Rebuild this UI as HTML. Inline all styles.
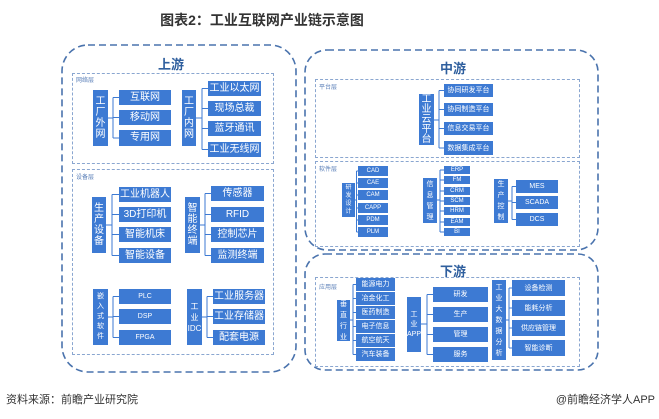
<!DOCTYPE html>
<html><head><meta charset="utf-8"><style>
body{margin:0;width:659px;height:419px;background:#fff;position:relative;overflow:hidden;font-family:"Liberation Sans","Noto Sans CJK SC",sans-serif}
.b{position:absolute;background:#3d7ad3;color:#fff;display:flex;align-items:center;justify-content:center;font-size:10px;line-height:1;white-space:nowrap}
.v{flex-direction:column;font-size:10px;line-height:11px;text-align:center}
.s{font-size:6px}
.m{font-size:7px}
.lay{position:absolute;border:1px dashed #8aa6d0}
.lt{position:absolute;font-size:6px;color:#5a7fb8}
.t{position:absolute;font-weight:bold;color:#2f5f9e;font-size:13px}
</style></head><body>
<div style="position:absolute;left:112px;top:10px;width:300px;text-align:center;font-weight:bold;font-size:14px;color:#333;white-space:nowrap">图表2：工业互联网产业链示意图</div>
<svg style="position:absolute;left:0;top:0" width="659" height="419">
<g fill="none" stroke="#4a73ad" stroke-width="1.6" stroke-dasharray="7,4">
<rect x="62" y="45" width="234" height="327" rx="26"/>
<rect x="305" y="50" width="293" height="200" rx="22"/>
<rect x="305" y="254" width="293" height="116" rx="20"/>
</g>
<g fill="none" stroke="#3d7ad3" stroke-width="1">
<path d="M108 118H113M113 97.5V138M113 97.5H119M113 117.5H119M113 138H119"/>
<path d="M196 118H202M202 88.5V149.5M202 88.5H208M202 108.5H208M202 128.5H208M202 149.5H208"/>
<path d="M106 225H112M112 194.5V255.5M112 194.5H119M112 214.5H119M112 234.5H119M112 255.5H119"/>
<path d="M200 225H205M205 193.5V255.5M205 193.5H211M205 214.5H211M205 234.5H211M205 255.5H211"/>
<path d="M108 317H113M113 296.5V337.5M113 296.5H119M113 316.5H119M113 337.5H119"/>
<path d="M202 317H207M207 296.5V337.5M207 296.5H213M207 316.5H213M207 337.5H213"/>
<path d="M434 120H439M439 90.5V148M439 90.5H444M439 109.5H444M439 128.5H444M439 148H444"/>
<path d="M355 200H356.5M356.5 171V232M356.5 171H358M356.5 183H358M356.5 195H358M356.5 208H358M356.5 220H358M356.5 232H358"/>
<path d="M437 200H440M440 170V232M440 170H444M440 180H444M440 191H444M440 201H444M440 211H444M440 222H444M440 232H444"/>
<path d="M508 201H512M512 186.5V219.5M512 186.5H516M512 202.5H516M512 219.5H516"/>
<path d="M350 320H353M353 284.5V354.5M353 284.5H356M353 298.5H356M353 312.5H356M353 326.5H356M353 340.5H356M353 354.5H356"/>
<path d="M421 324H427M427 294.5V354.5M427 294.5H433M427 314.5H433M427 334.5H433M427 354.5H433"/>
<path d="M506 320H509M509 288V348M509 288H512M509 308H512M509 328H512M509 348H512"/>
</g></svg>
<div class="t" style="left:158px;top:54px">上游</div>
<div class="t" style="left:440px;top:58px">中游</div>
<div class="t" style="left:440px;top:261px">下游</div>

<div class="lay" style="left:72px;top:73px;width:200px;height:89px"></div><div class="lt" style="left:76px;top:75px">网络层</div>
<div class="lay" style="left:72px;top:169px;width:200px;height:184px"></div><div class="lt" style="left:76px;top:172px">设备层</div>
<div class="lay" style="left:315px;top:79px;width:263px;height:77px"></div><div class="lt" style="left:319px;top:82px">平台层</div>
<div class="lay" style="left:315px;top:161px;width:263px;height:84px"></div><div class="lt" style="left:319px;top:164px">软件层</div>
<div class="lay" style="left:315px;top:277px;width:263px;height:88px"></div><div class="lt" style="left:319px;top:282px">应用层</div>

<div class="b v" style="left:93px;top:90px;width:15px;height:56px">工<br>厂<br>外<br>网</div>
<div class="b" style="left:119px;top:90px;width:52px;height:15px">互联网</div>
<div class="b" style="left:119px;top:110px;width:52px;height:15px">移动网</div>
<div class="b" style="left:119px;top:130px;width:52px;height:16px">专用网</div>
<div class="b v" style="left:182px;top:90px;width:14px;height:56px">工<br>厂<br>内<br>网</div>
<div class="b" style="left:208px;top:81px;width:53px;height:15px">工业以太网</div>
<div class="b" style="left:208px;top:101px;width:53px;height:15px">现场总裁</div>
<div class="b" style="left:208px;top:121px;width:53px;height:15px">蓝牙通讯</div>
<div class="b" style="left:208px;top:142px;width:53px;height:15px">工业无线网</div>

<div class="b v" style="left:92px;top:197px;width:14px;height:56px">生<br>产<br>设<br>备</div>
<div class="b" style="left:119px;top:187px;width:52px;height:15px">工业机器人</div>
<div class="b" style="left:119px;top:207px;width:52px;height:15px">3D打印机</div>
<div class="b" style="left:119px;top:227px;width:52px;height:15px">智能机床</div>
<div class="b" style="left:119px;top:248px;width:52px;height:15px">智能设备</div>
<div class="b v" style="left:185px;top:197px;width:15px;height:56px">智<br>能<br>终<br>端</div>
<div class="b" style="left:211px;top:186px;width:53px;height:15px">传感器</div>
<div class="b" style="left:211px;top:207px;width:53px;height:15px">RFID</div>
<div class="b" style="left:211px;top:227px;width:53px;height:15px">控制芯片</div>
<div class="b" style="left:211px;top:248px;width:53px;height:15px">监测终端</div>

<div class="b v m" style="left:93px;top:289px;width:15px;height:56px;line-height:10px">嵌<br>入<br>式<br>软<br>件</div>
<div class="b m" style="left:119px;top:289px;width:52px;height:15px">PLC</div>
<div class="b m" style="left:119px;top:309px;width:52px;height:15px">DSP</div>
<div class="b m" style="left:119px;top:330px;width:52px;height:15px">FPGA</div>
<div class="b v" style="left:187px;top:289px;width:15px;height:56px;font-size:8px">工<br>业<br>IDC</div>
<div class="b" style="left:213px;top:289px;width:52px;height:15px">工业服务器</div>
<div class="b" style="left:213px;top:309px;width:52px;height:15px">工业存储器</div>
<div class="b" style="left:213px;top:330px;width:52px;height:15px">配套电源</div>

<div class="b v" style="left:419px;top:94px;width:15px;height:51px;line-height:10px">工<br>业<br>云<br>平<br>台</div>
<div class="b m" style="left:444px;top:84px;width:49px;height:13px">协同研发平台</div>
<div class="b m" style="left:444px;top:103px;width:49px;height:13px">协同制造平台</div>
<div class="b m" style="left:444px;top:122px;width:49px;height:13px">信息交易平台</div>
<div class="b m" style="left:444px;top:141px;width:49px;height:14px">数据集成平台</div>

<div class="b v s" style="left:342px;top:183px;width:13px;height:34px;line-height:8px">研<br>发<br>设<br>计</div>
<div class="b s" style="left:358px;top:166px;width:30px;height:10px">CAD</div>
<div class="b s" style="left:358px;top:178px;width:30px;height:10px">CAE</div>
<div class="b s" style="left:358px;top:190px;width:30px;height:10px">CAM</div>
<div class="b s" style="left:358px;top:203px;width:30px;height:10px">CAPP</div>
<div class="b s" style="left:358px;top:215px;width:30px;height:10px">PDM</div>
<div class="b s" style="left:358px;top:227px;width:30px;height:10px">PLM</div>
<div class="b v m" style="left:423px;top:178px;width:14px;height:45px">信<br>息<br>管<br>理</div>
<div class="b s" style="left:444px;top:166px;width:26px;height:8px">ERP</div>
<div class="b s" style="left:444px;top:176px;width:26px;height:8px">FM</div>
<div class="b s" style="left:444px;top:187px;width:26px;height:8px">CRM</div>
<div class="b s" style="left:444px;top:197px;width:26px;height:8px">SCM</div>
<div class="b s" style="left:444px;top:207px;width:26px;height:8px">HRM</div>
<div class="b s" style="left:444px;top:218px;width:26px;height:8px">EAM</div>
<div class="b s" style="left:444px;top:228px;width:26px;height:8px">BI</div>
<div class="b v m" style="left:494px;top:179px;width:14px;height:44px">生<br>产<br>控<br>制</div>
<div class="b m" style="left:516px;top:180px;width:42px;height:13px">MES</div>
<div class="b m" style="left:516px;top:196px;width:42px;height:13px">SCADA</div>
<div class="b m" style="left:516px;top:213px;width:42px;height:13px">DCS</div>

<div class="b v m" style="left:337px;top:300px;width:13px;height:41px">垂<br>直<br>行<br>业</div>
<div class="b m" style="left:356px;top:278px;width:39px;height:13px">能源电力</div>
<div class="b m" style="left:356px;top:292px;width:39px;height:13px">冶金化工</div>
<div class="b m" style="left:356px;top:306px;width:39px;height:13px">医药制造</div>
<div class="b m" style="left:356px;top:320px;width:39px;height:13px">电子信息</div>
<div class="b m" style="left:356px;top:334px;width:39px;height:13px">航空航天</div>
<div class="b m" style="left:356px;top:348px;width:39px;height:13px">汽车装备</div>
<div class="b v" style="left:407px;top:297px;width:14px;height:55px;font-size:7px;line-height:10px">工<br>业<br>APP</div>
<div class="b m" style="left:433px;top:287px;width:55px;height:15px">研发</div>
<div class="b m" style="left:433px;top:307px;width:55px;height:15px">生产</div>
<div class="b m" style="left:433px;top:327px;width:55px;height:15px">管理</div>
<div class="b m" style="left:433px;top:347px;width:55px;height:15px">服务</div>
<div class="b v m" style="left:492px;top:280px;width:14px;height:80px;line-height:11px">工<br>业<br>大<br>数<br>据<br>分<br>析</div>
<div class="b m" style="left:512px;top:280px;width:53px;height:16px">设备检测</div>
<div class="b m" style="left:512px;top:300px;width:53px;height:16px">能耗分析</div>
<div class="b m" style="left:512px;top:320px;width:53px;height:16px">供应链管理</div>
<div class="b m" style="left:512px;top:340px;width:53px;height:16px">智能诊断</div>

<div style="position:absolute;left:6px;top:391px;font-size:11px;color:#333">资料来源：前瞻产业研究院</div>
<div style="position:absolute;right:4px;top:391px;font-size:11px;color:#333">@前瞻经济学人APP</div>
</body></html>
